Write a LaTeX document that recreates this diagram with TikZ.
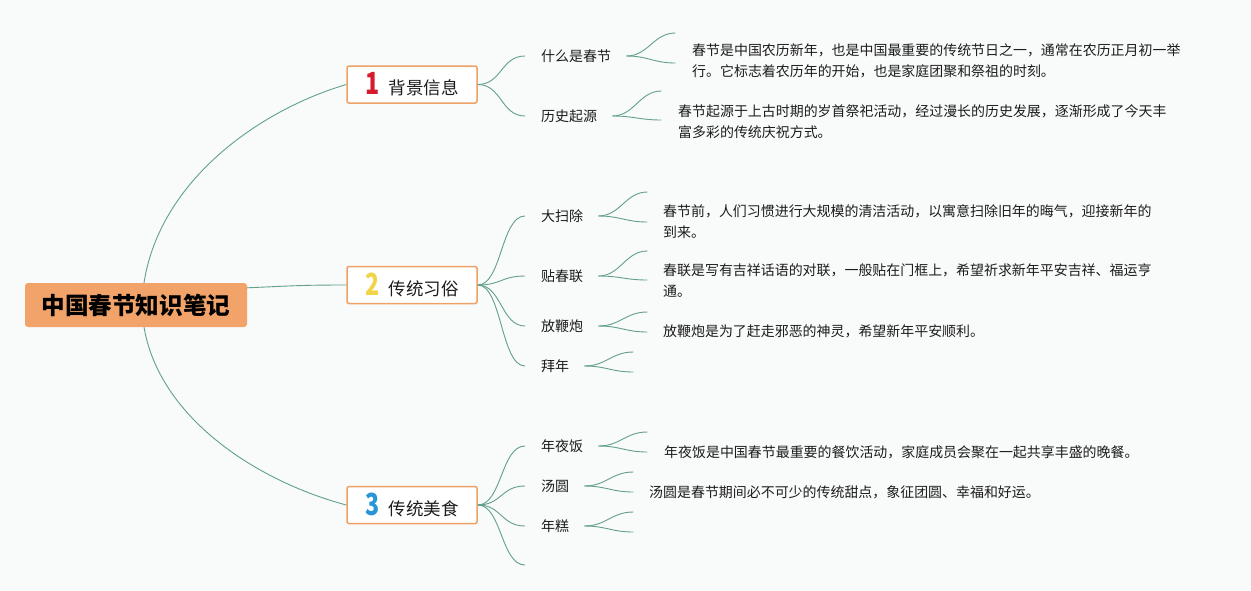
\documentclass[tikz,border=0pt]{standalone}
\usepackage{fontspec}
\usepackage{graphicx}
\setmainfont{Noto Sans CJK SC}
\usetikzlibrary{calc}
\definecolor{bg}{RGB}{249,250,250}
\definecolor{ln}{RGB}{98,160,140}
\definecolor{org}{RGB}{238,162,104}
\definecolor{rootfill}{RGB}{242,163,106}
\definecolor{txt}{RGB}{28,28,28}
\definecolor{numred}{RGB}{214,28,44}
\definecolor{numyel}{RGB}{242,212,72}
\definecolor{numblu}{RGB}{40,150,214}
\tikzset{
  conn/.style={draw=ln, line width=0.9pt},
  rootbox/.style={fill=rootfill, rounded corners=3pt, minimum width=222pt, minimum height=44pt, inner sep=0pt, text=black, font=\fontsize{23.6}{28}\selectfont\bfseries},
  branchbox/.style={draw=org, fill=white, line width=1.5pt, rounded corners=2pt, minimum width=130pt, minimum height=37pt, inner sep=0pt, text=txt, font=\fontsize{17.5}{21}\selectfont},
  lab/.style={anchor=west, inner sep=0pt, text=txt, font=\fontsize{14}{17}\selectfont},
  desc/.style={anchor=west, inner sep=0pt, text=txt, align=left, font=\fontsize{13.95}{21}\selectfont},
}
\newcommand\bnum[2]{{\fontsize{29}{29}\selectfont\bfseries\color{#1}\scalebox{0.8}[1.05]{#2}}\hspace{9pt}}
\newcommand\forkdraw[3]{%
  \draw[conn] ($(#1.east)+(15,0)$) .. controls +(22,0) and +(-22,0) .. ($(#1.east)+(64,-#2)$);
  \draw[conn] ($(#1.east)+(15,0)$) .. controls +(22,0) and +(-22,0) .. ($(#1.east)+(64,#3)$);}
\newcommand\sdraw[2]{%
  \draw[conn] (#1.east) .. controls +(24,0) and +(-24,0) .. ($(#2.west)+(-16,0)$);}
\begin{document}
\begin{tikzpicture}[x=1pt,y=-1pt]
\fill[bg] (0,0) rectangle (1251,590);
\useasboundingbox (0,0) rectangle (1251,590);

% root and branches
\node[rootbox] (root) at (136,305) {中国春节知识笔记};
\node[branchbox] (b1) at (412,84.5) {\bnum{numred}{1}背景信息};
\node[branchbox] (b2) at (412,285) {\bnum{numyel}{2}传统习俗};
\node[branchbox] (b3) at (412,505) {\bnum{numblu}{3}传统美食};

\draw[conn] ($(root.north west)!0.536!(root.north east)$) .. controls (160,180) and (260,110) .. (b1.west);
\draw[conn] ($(root.north east)+(0,5)$) .. controls (290,286) and (300,285) .. (b2.west);
\draw[conn] ($(root.south west)!0.536!(root.south east)$) .. controls (160,420) and (260,482) .. (b3.west);

% group 1
\node[lab] (l11) at (541,56) {什么是春节};
\node[lab] (l12) at (541,116) {历史起源};
\node[desc] (d11) at (692,60.5) {春节是中国农历新年，也是中国最重要的传统节日之一，通常在农历正月初一举\\行。它标志着农历年的开始，也是家庭团聚和祭祖的时刻。};
\node[desc] (d12) at (678,121.5) {春节起源于上古时期的岁首祭祀活动，经过漫长的历史发展，逐渐形成了今天丰\\富多彩的传统庆祝方式。};
\sdraw{b1}{l11}
\sdraw{b1}{l12}
\forkdraw{l11}{23}{7}
\forkdraw{l12}{25}{4}

% group 2
\node[lab] (l21) at (541,216) {大扫除};
\node[lab] (l22) at (541,276) {贴春联};
\node[lab] (l23) at (541,326) {放鞭炮};
\node[lab] (l24) at (541,366) {拜年};
\node[desc] (d21) at (663,222) {春节前，人们习惯进行大规模的清洁活动，以寓意扫除旧年的晦气，迎接新年的\\到来。};
\node[desc] (d22) at (663,281) {春联是写有吉祥话语的对联，一般贴在门框上，希望祈求新年平安吉祥、福运亨\\通。};
\node[desc] (d23) at (663,331) {放鞭炮是为了赶走邪恶的神灵，希望新年平安顺利。};
\sdraw{b2}{l21}
\sdraw{b2}{l22}
\sdraw{b2}{l23}
\sdraw{b2}{l24}
\forkdraw{l21}{24}{6}
\forkdraw{l22}{25}{4}
\forkdraw{l23}{14}{6}
\forkdraw{l24}{14}{6}

% group 3
\node[lab] (l31) at (541,446) {年夜饭};
\node[lab] (l32) at (541,486) {汤圆};
\node[lab] (l33) at (541,526) {年糕};
\coordinate (l34) at (541,565);
\node[desc] (d31) at (664,452) {年夜饭是中国春节最重要的餐饮活动，家庭成员会聚在一起共享丰盛的晚餐。};
\node[desc] (d32) at (649,492) {汤圆是春节期间必不可少的传统甜点，象征团圆、幸福和好运。};
\sdraw{b3}{l31}
\sdraw{b3}{l32}
\sdraw{b3}{l33}
\draw[conn] (b3.east) .. controls +(24,0) and +(-24,0) .. ($(l34)+(-16,0)$);
\forkdraw{l31}{14}{6}
\forkdraw{l32}{14}{6}
\forkdraw{l33}{14}{6}
\end{tikzpicture}
\end{document}
